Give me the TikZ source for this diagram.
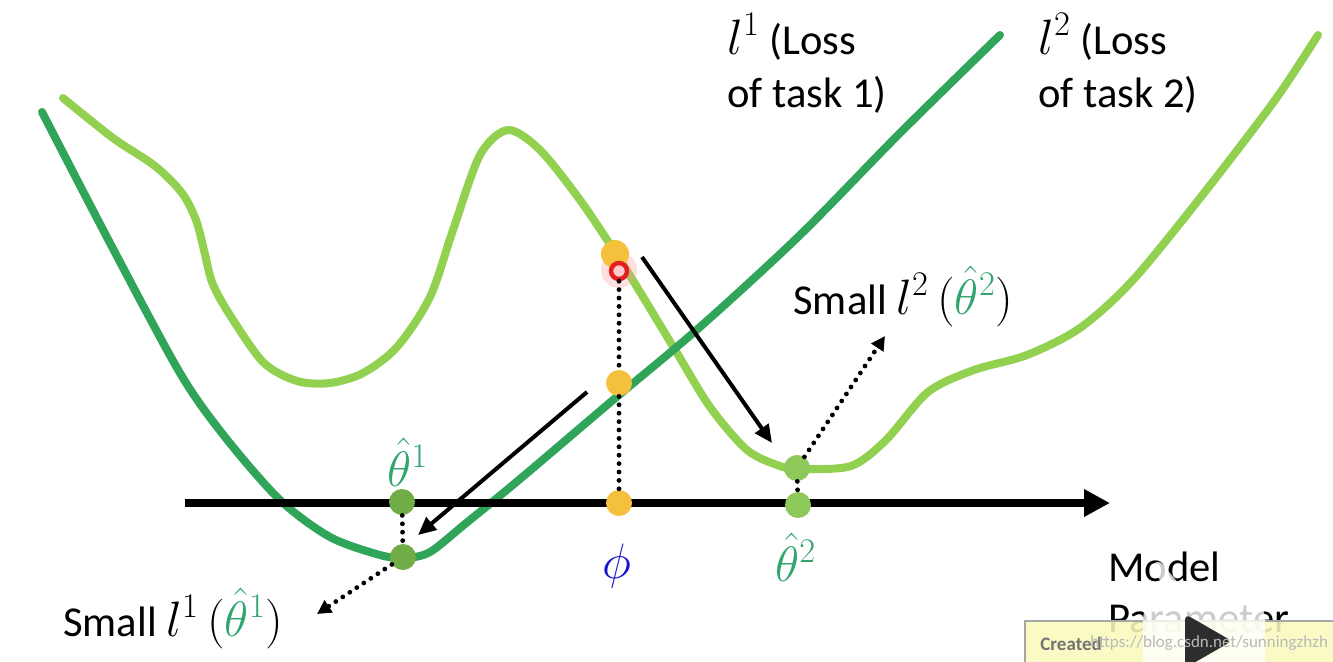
\documentclass[tikz,border=0pt]{standalone}
\usepackage{fontspec}
\setmainfont{Carlito}
\usetikzlibrary{arrows.meta}
\definecolor{lone}{RGB}{48,165,90}
\definecolor{ltwo}{RGB}{146,208,80}
\definecolor{ydotc}{RGB}{245,192,60}
\definecolor{gdotone}{RGB}{112,173,71}
\definecolor{gdottwo}{RGB}{140,200,90}
\definecolor{lblgreen}{RGB}{50,165,110}
\definecolor{phiblue}{RGB}{20,20,210}
\definecolor{boxyellow}{RGB}{250,250,190}
\tikzset{
  curve/.style={line width=4pt, line cap=round, line join=round},
  dotnode/.style={circle, inner sep=0pt, minimum size=13pt},
  ydot/.style={dotnode, fill=ydotc},
  gdot/.style={dotnode, fill=gdotone},
  gdotb/.style={dotnode, fill=gdottwo},
  dotline/.style={line width=2.4pt, line cap=round, dash pattern=on 0pt off 4.2pt},
  dotarrow/.style={dotline, -{Triangle[length=7pt,width=7pt]}},
  blackarrow/.style={line width=2pt, -{Triangle[length=9pt,width=8pt]}},
  lbl/.style={inner sep=0pt},
}
\newcommand{\mfont}{\fontsize{24}{26}\selectfont}
\newcommand{\bigmath}{\fontsize{27}{30}\selectfont}
\begin{document}
\begin{tikzpicture}[x=0.5pt,y=-0.5pt,font=\fontsize{21.3}{26}\selectfont]
\useasboundingbox (0,0) rectangle (1333,661);
\fill[white] (0,0) rectangle (1333,661);

% loss of task 2 (light green)
\draw[curve, ltwo] plot[smooth, tension=0.5] coordinates {
 (63,98) (113,138) (155,166) (182,193) (196,220) (204,250) (212,282) (228,312)
 (263,362) (297,381) (330,383) (363,373) (397,347) (430,297) (453,230) (480,155)
 (508,130) (540,150) (580,200) (617,255) (637,287) (677,353) (710,407) (747,450)
 (780,466) (800,469) (851,466) (886,440) (928,392) (974,370) (1027,355)
 (1080,328) (1133,280) (1204,193) (1275,100) (1318,35)};

% loss of task 1 (dark green)
\draw[curve, lone] plot[smooth, tension=0.5] coordinates {
 (42,112) (110,243) (180,373) (225,437) (280,500) (330,537) (380,555) (405,558)
 (430,552) (465,524) (520,479) (613,400) (700,327) (800,235) (900,133) (1000,35)};

% axis
\coordinate (axs) at (185,503);
\coordinate (axe) at (1110,503);
\draw[line width=4pt, -{Triangle[length=13pt,width=13pt]}] (axs) -- (axe);

% points
\fill[red!40, opacity=0.3] (619,270) circle (9pt);
\node[ydot, minimum size=14pt] (p0) at (615,254) {};
\node[circle, draw={rgb,255:red,230;green,30;blue,30}, line width=2.2pt, fill=white!80!red, inner sep=0pt, minimum size=8pt] (ring) at (619,271) {};
\node[ydot] (p1) at (619,383) {};
\node[ydot] (p2) at (619,503) {};
\node[gdot] (t1a) at (402,502) {};
\node[gdot] (t1b) at (403,557) {};
\node[gdotb] (t2a) at (797,468) {};
\node[gdotb] (t2b) at (798,505) {};

% dotted connectors
\draw[dotline] (ring) -- (p1);
\draw[dotline] (p1) -- (p2);
\draw[dotline] (t1a) -- (t1b);
\draw[dotline] (t2a) -- (t2b);

% update arrows
\coordinate (a1s) at (642,257);
\coordinate (a1e) at (772,443);
\draw[blackarrow] (a1s) -- (a1e);
\coordinate (a2s) at (587,392);
\coordinate (a2e) at (418,535);
\draw[blackarrow] (a2s) -- (a2e);

% dotted arrows to labels
\coordinate (d1e) at (317,614);
\draw[dotarrow] (t1b) -- (d1e);
\coordinate (d2e) at (885,336);
\draw[dotarrow] (t2a) -- (d2e);

% labels
\node[lbl, anchor=base west] (th1) at (387,486) {\bigmath\textcolor{lblgreen}{$\hat\theta^1$}};
\node[lbl, anchor=base] (phi) at (617,578) {\fontsize{30}{32}\selectfont\textcolor{phiblue}{$\phi$}};
\node[lbl, anchor=base west] (th2) at (775,581) {\bigmath\textcolor{lblgreen}{$\hat\theta^2$}};
\node[lbl, anchor=base west] (sm1) at (63,636) {Small {\mfont$l^1\,(\textcolor{lblgreen}{\hat\theta^{1}})$}};
\node[lbl, anchor=base west] (sm2) at (793,314) {Small {\mfont$l^2\,(\textcolor{lblgreen}{\hat\theta^{2}})$}};
\node[lbl, anchor=base west] (l1a) at (727,54) {{\mfont$l^1$} (Loss};
\node[lbl, anchor=base west] (l1b) at (727,107) {of task 1)};
\node[lbl, anchor=base west] (l2a) at (1038,54) {{\mfont$l^2$} (Loss};
\node[lbl, anchor=base west] (l2b) at (1038,107) {of task 2)};
\node[lbl, anchor=base west] (mp1) at (1108,581) {Model};
\node[lbl, anchor=base west] (mp2) at (1108,632) {Parameter};

% overlay box and play button (as in the screenshot)
\fill[boxyellow, opacity=0.88] (1025,621) rectangle (1345,680);
\draw[gray!70, line width=0.8pt] (1025,680) -- (1025,621) -- (1345,621);
\fill[white, opacity=0.8, rounded corners=18pt] (1143,585) rectangle (1265,700);
\draw[white, line width=6pt, line cap=round, opacity=0.8] (1172,585) -- (1158,568);
\draw[white, line width=6pt, line cap=round, opacity=0.8] (1236,585) -- (1250,568);
\fill[gray!35!black, rounded corners=3pt] (1185,614) -- (1232,641) -- (1185,668) -- cycle;
\node[lbl, anchor=base west, text=gray!90!black, font=\fontsize{9.5}{11}\selectfont\bfseries] (cr) at (1040,650) {Created};
\node[lbl, anchor=base west, text=gray!55, font=\fontsize{8.5}{11}\selectfont] (url) at (1090,647) {https://blog.csdn.net/sunningzhzh};
\end{tikzpicture}
\end{document}
